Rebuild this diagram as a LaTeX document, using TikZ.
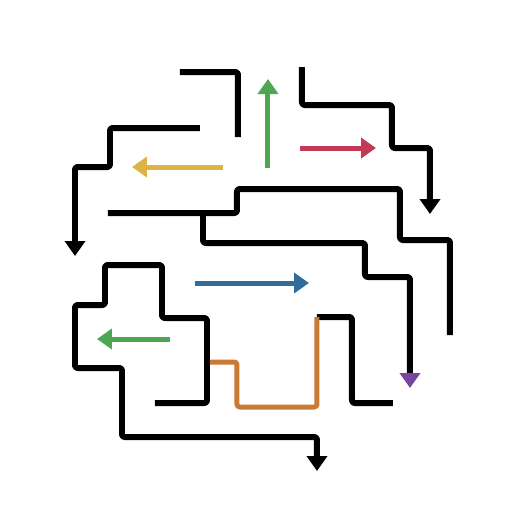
\documentclass[tikz,border=0pt]{standalone}
\usetikzlibrary{arrows.meta}

\definecolor{mazegreen}{RGB}{78,165,82}
\definecolor{mazeyellow}{RGB}{222,178,68}
\definecolor{mazered}{RGB}{196,58,86}
\definecolor{mazeblue}{RGB}{48,108,156}
\definecolor{mazeorange}{RGB}{202,122,52}
\definecolor{mazeviolet}{RGB}{118,70,158}

\begin{document}
\begin{tikzpicture}[x = 0.02cm, y = -0.02cm,
	> = {Triangle[width = 0.4cm, length = 0.3cm]},
	wall/.style = {black, line width = 0.12cm, line join = round, rounded corners = 1.5pt},
	way/.style = {line width = 0.1cm, ->}]

	% Canvas

	\useasboundingbox (0, 0) rectangle (512, 512);

	% Top left walls

	\draw [wall] (180, 72) -- (238, 72) -- (238, 137);
	\draw [wall, ->] (200, 128) -- (110, 128) -- (110, 167) -- (75, 167) -- (75, 256);

	% Top right walls

	\draw [wall, ->] (302, 67) -- (302, 105) -- (392, 105) -- (392, 148) -- (430, 148) -- (430, 214);
	\draw [wall] (108, 213) -- (237, 213) -- (237, 189) -- (400, 189) -- (400, 240) -- (450, 240) -- (450, 335);
	\draw [wall, -{Triangle[width = 0.4cm, length = 0.3cm, color = mazeviolet]}]
		(203, 213) -- (203, 243) -- (365, 243) -- (365, 277) -- (410, 277) -- (410, 388);

	% Bottom walls

	\draw [wall, ->] (155, 403) -- (207, 403) -- (207, 318) -- (162, 318) -- (162, 265) -- (105, 265)
		-- (105, 305) -- (75, 305) -- (75, 368) -- (122, 368) -- (122, 437) -- (317, 437) -- (317, 471);
	\draw [wall] (317, 317) -- (352, 317) -- (352, 403) -- (393, 403);

	% Coloured ways

	\draw [way, mazegreen] (268, 168) -- (268, 79);
	\draw [way, mazered] (300, 148) -- (376, 148);
	\draw [way, mazeyellow] (223, 167) -- (132, 167);
	\draw [way, mazeblue] (195, 283) -- (309, 283);
	\draw [way, mazegreen] (170, 339) -- (97, 339);

	% Orange detour

	\draw [mazeorange, line width = 0.1cm, line join = round, rounded corners = 1.5pt]
		(210, 362) -- (237, 362) -- (237, 407) -- (317, 407) -- (317, 317);

\end{tikzpicture}
\end{document}
